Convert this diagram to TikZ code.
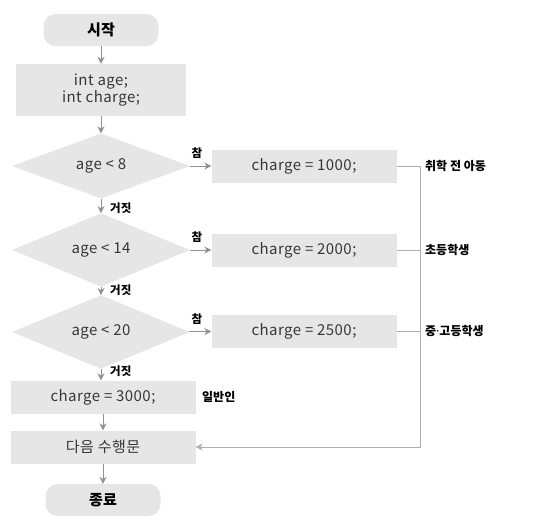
\documentclass[tikz,border=0pt]{standalone}
\usepackage{fontspec}
\setmainfont{Noto Sans CJK KR}
\newfontfamily\boxfont{Noto Sans CJK KR}[LetterSpace=3]
\newfontfamily\dotfont{Noto Sans}
\usetikzlibrary{shapes.geometric,arrows.meta}
\definecolor{boxgray}{RGB}{230,230,230}
\definecolor{arrowgray}{RGB}{145,145,145}
\definecolor{linegray}{RGB}{175,175,175}
\definecolor{textgray}{RGB}{55,55,55}
\begin{document}
\begin{tikzpicture}[x=1pt,y=-1pt,
    arrow/.style = {draw=arrowgray,thick,-{Stealth[length=7pt,width=7pt]}},
    proc/.style = {fill=boxgray,text=textgray,minimum width=185pt,minimum height=33pt,
                   inner sep=0pt,font=\boxfont\fontsize{15}{17}\selectfont},
    term/.style = {fill=boxgray,rounded corners=12pt,minimum width=115pt,minimum height=32pt,
                   font=\fontsize{15}{17}\selectfont\bfseries},
    test/.style = {diamond,fill=boxgray,text=textgray,minimum width=178pt,minimum height=65pt,
                   inner sep=0pt,font=\boxfont\fontsize{15}{17}\selectfont},
    tag/.style = {font=\fontsize{11.5}{13}\selectfont\bfseries,inner sep=0pt},
    note/.style = {anchor=west,font=\fontsize{12}{14}\selectfont\bfseries,inner sep=0pt}]
                \useasboundingbox (0,0) rectangle (545,530);

                \node[term] (start) at (101,30) {시작};
                \node[proc,minimum width=170pt,minimum height=52pt,align=center] (init) at (101,90)
                    {int age;\\int charge;};
                \node[test] (d1) at (101,166) {age < 8};
                \node[test] (d2) at (101,250) {age < 14};
                \node[test] (d3) at (101,332) {age < 20};
                \node[proc] (c1) at (304,166) {charge = 1000;};
                \node[proc] (c2) at (304,250) {charge = 2000;};
                \node[proc] (c3) at (304,331) {charge = 2500;};
                \node[proc] (c4) at (103,397) {charge = 3000;};
                \node[proc] (next) at (103,447) {다음 수행문};
                \node[term] (stop) at (103,500) {종료};

                \coordinate (j1) at (420,166);
                \coordinate (j2) at (420,250);
                \coordinate (j3) at (420,331);

                \draw[arrow] (start) -- (init);
                \draw[arrow] (init) -- (d1);
                \draw[arrow] (d1) -- (d2);
                \draw[arrow] (d2) -- (d3);
                \draw[arrow] (d3.south) -- (c4.north -| d3.south);
                \draw[arrow] (c4.south -| next) -- (next);
                \draw[arrow] (next) -- (stop);
                \draw[arrow] (d1) -- (c1);
                \draw[arrow] (d2) -- (c2);
                \draw[arrow] (d3) -- (c3);

                \draw[linegray,thick] (c2.east) -- (j2);
                \draw[linegray,thick] (c3.east) -- (j3);
                \draw[arrow,draw=linegray] (c1.east) -- (j1) |- (next.east);

                \node[tag] (t1) at (197,153) {참};
                \node[tag] (t2) at (197,237) {참};
                \node[tag] (t3) at (197,319) {참};
                \node[tag,anchor=west] (f1) at (110,208) {거짓};
                \node[tag,anchor=west] (f2) at (110,290) {거짓};
                \node[tag,anchor=west] (f3) at (110,371) {거짓};

                \node[note] (n1) at (425,166) {취학 전 아동};
                \node[note] (n2) at (425,250) {초등학생};
                \node[note] (n3) at (425,331) {중{\dotfont\bfseries ·}고등학생};
                \node[note] (n4) at (202,397) {일반인};
\end{tikzpicture}
\end{document}
